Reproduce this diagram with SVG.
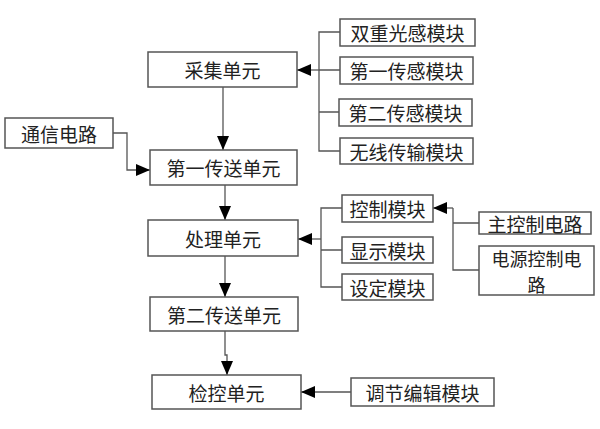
<svg xmlns="http://www.w3.org/2000/svg" width="600" height="429" viewBox="0 0 600 429">
<style>
.box{fill:#fff;stroke:#555;stroke-width:1.5}
.t{font-family:"Noto Sans CJK SC","Noto Sans CJK TC",sans-serif;font-size:19px;fill:#222;text-anchor:middle;dominant-baseline:central}
.ln{fill:none;stroke:#555;stroke-width:1.3}
.ar{fill:none;stroke:#555;stroke-width:1.3;marker-end:url(#ah)}
</style>
<defs>
<marker id="ah" markerUnits="userSpaceOnUse" markerWidth="14" markerHeight="14" viewBox="0 0 14 14" refX="14" refY="7" orient="auto">
<path d="M0,1 L14,7 L0,13 Z" fill="#000"/>
</marker>
</defs>
<rect width="600" height="429" fill="#fff"/>
<g id="connectors">
<path class="ar" d="M223,87 V150"/>
<path class="ar" d="M113,133 H127 V170 H150"/>
<path class="ar" d="M225,185 V220"/>
<path class="ar" d="M225,256 V297"/>
<path class="ar" d="M225,331 V355 H227 V375"/>
<path class="ln" d="M340,32 H319 V151 H340 M319,112 H339 M340,70 H319"/>
<path class="ar" d="M319,70 H297"/>
<path class="ln" d="M342,208 H321 V287 H342 M321,250 H342"/>
<path class="ar" d="M321,239 H298"/>
<path class="ln" d="M453,208 V270 H479 M453,223 H479"/>
<path class="ar" d="M453,208 H433"/>
<path class="ar" d="M351,392 H301"/>
</g>
<g id="n1"><rect class="box" x="148" y="52" width="149" height="35"/><text class="t" x="222.5" y="69.5">采集单元</text></g>
<g id="n2"><rect class="box" x="340" y="19" width="135" height="27"/><text class="t" x="407.5" y="32.5">双重光感模块</text></g>
<g id="n3"><rect class="box" x="340" y="57" width="133" height="27"/><text class="t" x="406.5" y="70.5">第一传感模块</text></g>
<g id="n4"><rect class="box" x="339" y="99" width="133" height="27"/><text class="t" x="405.5" y="112.5">第二传感模块</text></g>
<g id="n5"><rect class="box" x="340" y="138" width="133" height="26"/><text class="t" x="406.5" y="151">无线传输模块</text></g>
<g id="n6"><rect class="box" x="5" y="118" width="108" height="30"/><text class="t" x="59" y="133">通信电路</text></g>
<g id="n7"><rect class="box" x="150" y="150" width="147" height="35"/><text class="t" x="223.5" y="167.5">第一传送单元</text></g>
<g id="n8"><rect class="box" x="148" y="220" width="150" height="36"/><text class="t" x="223" y="238">处理单元</text></g>
<g id="n9"><rect class="box" x="342" y="195" width="91" height="27"/><text class="t" x="387.5" y="208.5">控制模块</text></g>
<g id="n10"><rect class="box" x="342" y="237" width="91" height="26"/><text class="t" x="387.5" y="250">显示模块</text></g>
<g id="n11"><rect class="box" x="342" y="274" width="91" height="26"/><text class="t" x="387.5" y="287">设定模块</text></g>
<g id="n12"><rect class="box" x="479" y="212" width="112" height="22"/><text class="t" x="535" y="223">主控制电路</text></g>
<g id="n13"><rect class="box" x="479" y="246" width="115" height="49"/><text class="t" x="536.5" y="258" style="font-size:18px">电源控制电</text><text class="t" x="536.5" y="284" style="font-size:18px">路</text></g>
<g id="n14"><rect class="box" x="150" y="297" width="148" height="34"/><text class="t" x="224" y="314">第二传送单元</text></g>
<g id="n15"><rect class="box" x="152" y="375" width="149" height="34"/><text class="t" x="226.5" y="392">检控单元</text></g>
<g id="n16"><rect class="box" x="351" y="378" width="143" height="28"/><text class="t" x="422.5" y="392">调节编辑模块</text></g>
</svg>
